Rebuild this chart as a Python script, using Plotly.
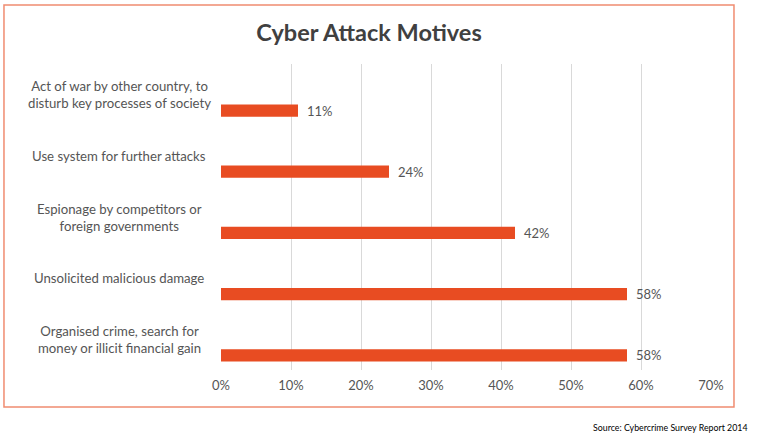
import plotly.graph_objects as go

categories = [
    "Act of war by other country, to<br>disturb key processes of society",
    "Use system for further attacks",
    "Espionage by competitors or<br>foreign governments",
    "Unsolicited malicious damage",
    "Organised crime, search for<br>money or illicit financial gain",
]
values = [0.11, 0.24, 0.42, 0.58, 0.58]
x_ticks = [0, 0.1, 0.2, 0.3, 0.4, 0.5, 0.6, 0.7]
x_ticktext = ["0%", "10%", "20%", "30%", "40%", "50%", "60%", "70%"]

FONT = "Lato"
TEXT = "#555555"
BAR = "#E84C22"

pos = list(range(len(categories)))
bar_pos = [p + 0.26 for p in pos]

fig = go.Figure()
fig.add_trace(go.Bar(
    x=values, y=bar_pos, orientation="h", width=0.2,
    marker=dict(color=BAR, line=dict(width=0)),
    hoverinfo="skip",
))

annotations = []
for p, c in zip(pos, categories):
    annotations.append(dict(
        x=-0.208, xref="paper", y=p, yref="y", text=c, showarrow=False,
        xanchor="center", yanchor="middle", align="center",
        font=dict(family=FONT, size=13.2, color=TEXT),
    ))
for bp, v in zip(bar_pos, values):
    annotations.append(dict(
        x=v, xref="x", y=bp, yref="y", text=f"{round(v*100)}%", showarrow=False,
        xanchor="left", yanchor="middle", xshift=7,
        font=dict(family=FONT, size=13, color=TEXT),
    ))
annotations.append(dict(
    x=1.0796, xref="paper", y=-0.1895, yref="paper",
    text="Source: Cybercrime Survey Report 2014", showarrow=False,
    xanchor="right", yanchor="middle",
    font=dict(family=FONT, size=8.8, color="#000000"),
))

fig.update_layout(
    width=757, height=439,
    margin=dict(l=221, r=46, t=64, b=69),
    paper_bgcolor="white", plot_bgcolor="white",
    showlegend=False,
    title=dict(text="<b>Cyber Attack Motives</b>", x=0.4875, xref="container",
               y=0.925, yref="container", xanchor="center", yanchor="middle",
               font=dict(family=FONT, size=23.5, color="#404040")),
    xaxis=dict(range=[0, 0.7], tickvals=x_ticks, ticktext=x_ticktext,
               showgrid=True, gridcolor="#D9D9D9", gridwidth=1,
               zeroline=False, showline=False, ticks="",
               tickfont=dict(family=FONT, size=13, color=TEXT), ticklabelstandoff=6),
    yaxis=dict(range=[4.5, -0.5], showticklabels=False, showgrid=False,
               zeroline=False, showline=False, ticks=""),
    annotations=annotations,
    shapes=[dict(type="rect", xref="paper", yref="paper",
                 x0=-0.4429, x1=1.0469, y0=-0.1209, y1=1.1928,
                 line=dict(color="#F08C70", width=1.5), fillcolor="rgba(0,0,0,0)")],
)

fig.write_html("out.html")
